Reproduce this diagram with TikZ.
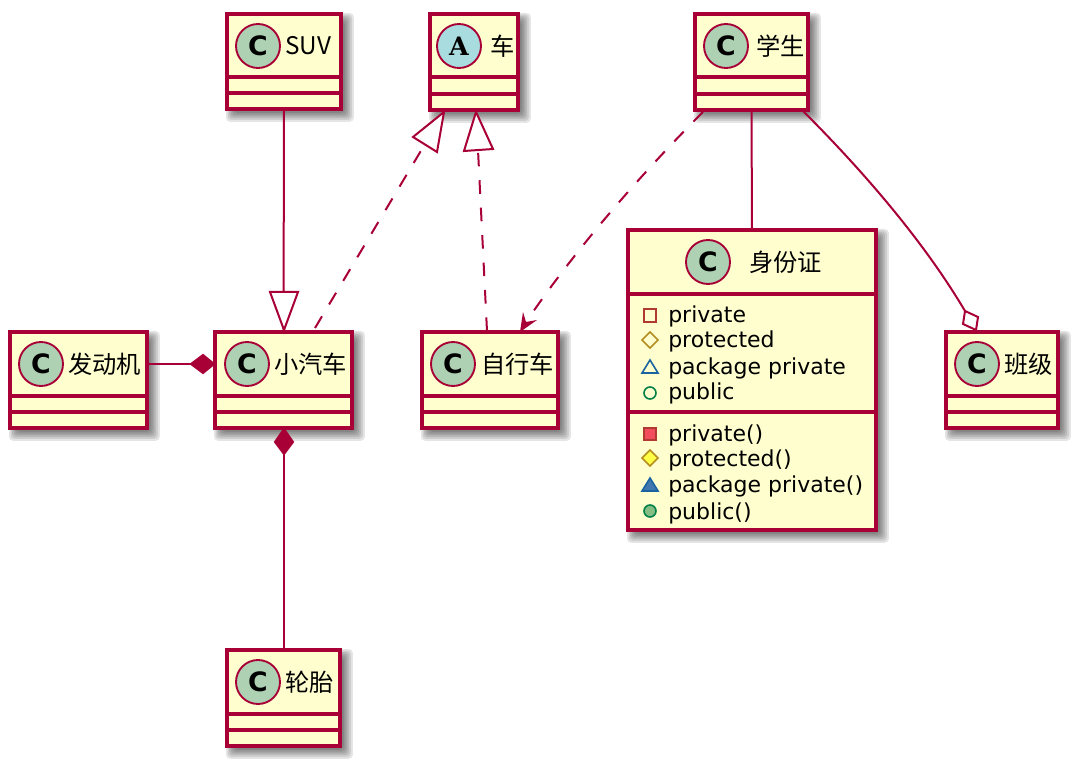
\documentclass[tikz,border=0pt]{standalone}
\usepackage{fontspec}
\setmainfont{DejaVu Sans}
\newfontfamily\cjkf{Noto Sans CJK SC}
\newfontfamily\absf{DejaVu Serif}
\definecolor{umlb}{HTML}{A80036}
\definecolor{umlf}{HTML}{FEFECE}
\definecolor{umlc}{HTML}{ADD1B2}
\definecolor{umla}{HTML}{A9DCDF}
\definecolor{vpriv}{HTML}{B03A30}
\definecolor{vprivf}{HTML}{F24D5C}
\definecolor{vprot}{HTML}{B38D22}
\definecolor{vprotf}{HTML}{FFFF44}
\definecolor{vpack}{HTML}{1963A0}
\definecolor{vpackf}{HTML}{4177AF}
\definecolor{vpub}{HTML}{038048}
\definecolor{vpubf}{HTML}{84BE84}
\tikzset{
  x=0.75pt,y=-0.75pt,
  conn/.style={draw=umlb,line width=1.5pt},
  dashconn/.style={conn,dash pattern=on 10.2pt off 10.4pt},
  hollowtip/.style={conn,fill=white,line join=miter},
  soliddiamond/.style={conn,fill=umlb,line join=miter},
  boxframe/.style={draw=umlb,fill=umlf,line width=2.3pt,inner sep=0pt,outer sep=0pt,anchor=north west},
  sepline/.style={draw=umlb,line width=2.6pt},
  badge/.style={circle,draw=umlb,line width=1.4pt,minimum size=33pt,inner sep=0pt,outer sep=0pt},
  badgeletter/.style={font=\bfseries\fontsize{20}{22}\selectfont,text=black,inner sep=0pt},
  titletext/.style={font=\cjkf\fontsize{18.2}{20}\selectfont,text=black,anchor=west,inner sep=0pt},
  membertext/.style={font=\fontsize{16.5}{18}\selectfont,text=black,anchor=base west,inner sep=0pt},
  visline/.style={line width=1.2pt},
}
\newcommand{\umlshadow}[4]{%
  \foreach \g in {0,1,...,6}{%
    \fill[black,opacity=0.10,rounded corners=3pt]
      ({#1+8-\g*1.5},{#2+8-\g*1.5}) rectangle ({#3+2+\g*1.8},{#4+2+\g*1.8});
  }}
\newcommand{\umlbox}[5]{%
  \umlshadow{#2}{#3}{#4}{#5}%
  \pgfmathsetmacro{\wid}{(#4-#2)*0.75}\pgfmathsetmacro{\hei}{(#5-#3)*0.75}%
  \node[boxframe,minimum width=\wid pt,minimum height=\hei pt] (#1) at (#2,#3) {};
}
\newcommand{\umlseps}[4]{%
  \draw[sepline] (#1+2,#3) -- (#2-2,#3);
  \draw[sepline] (#1+2,#4) -- (#2-2,#4);
}
\begin{document}
\begin{tikzpicture}
\useasboundingbox (0,0) rectangle (1074,762);
% boxes
\umlbox{suv}{227}{14}{341}{109}
\umlseps{227}{341}{77}{93}
\node[badge,fill=umlc] (suvb) at (258,46) {};
\node[badgeletter] (suvc) at (258,46) {C};
\node[titletext] (suvt) at (285,46) {SUV};

\umlbox{car}{430}{14}{518}{110}
\umlseps{430}{518}{77}{94}
\node[badge,fill=umla] (carb) at (459,46) {};
\node[badgeletter,font=\absf\bfseries\fontsize{19}{20}\selectfont] (carc) at (459,46) {A};
\node[titletext] (cart) at (490,46) {车};

\umlbox{stu}{695}{14}{808}{110}
\umlseps{695}{808}{77}{94}
\node[badge,fill=umlc] (stub) at (726,46) {};
\node[badgeletter] (stuc) at (726,46) {C};
\node[titletext] (stut) at (756,46) {学生};

\umlbox{eng}{10}{332}{147}{428}
\umlseps{10}{147}{396}{412}
\node[badge,fill=umlc] (engb) at (41,364) {};
\node[badgeletter] (engc) at (41,364) {C};
\node[titletext] (engt) at (68,364) {发动机};

\umlbox{auto}{215}{332}{352}{428}
\umlseps{215}{352}{396}{412}
\node[badge,fill=umlc] (autob) at (247,364) {};
\node[badgeletter] (autoc) at (247,364) {C};
\node[titletext] (autot) at (274,364) {小汽车};

\umlbox{bike}{422}{332}{558}{428}
\umlseps{422}{558}{396}{412}
\node[badge,fill=umlc] (bikeb) at (453,364) {};
\node[badgeletter] (bikec) at (453,364) {C};
\node[titletext] (biket) at (481,364) {自行车};

\umlbox{cls}{946}{332}{1058}{428}
\umlseps{946}{1058}{396}{412}
\node[badge,fill=umlc] (clsb) at (977,364) {};
\node[badgeletter] (clsc) at (977,364) {C};
\node[titletext] (clst) at (1004,364) {班级};

\umlbox{tire}{227}{650}{340}{746}
\umlseps{227}{340}{714}{730}
\node[badge,fill=umlc] (tireb) at (258,682) {};
\node[badgeletter] (tirec) at (258,682) {C};
\node[titletext] (tiret) at (285,682) {轮胎};

\umlbox{idc}{628}{230}{876}{530}
\umlseps{628}{876}{294}{412}
\node[badge,fill=umlc] (idcb) at (708,262) {};
\node[badgeletter] (idcc) at (708,262) {C};
\node[titletext] (idct) at (749,262) {身份证};

% member texts
\foreach \nm/\ty/\tx in {m1/323/private,m2/348/protected,m3/374.5/package private,m4/400/public,m5/441.5/private(),m6/466.5/protected(),m7/493/package private(),m8/519/public()}{
  \node[membertext] (\nm) at (668,\ty) {\tx};
}
% visibility marks
\draw[visline,draw=vpriv] (644,309) rectangle (656,322);
\draw[visline,draw=vprot] (650,332) -- (658,340) -- (650,348) -- (642,340) -- cycle;
\draw[visline,draw=vpack] (650,360) -- (658,373) -- (642,373) -- cycle;
\draw[visline,draw=vpub] (650,393) circle (6);
\draw[visline,draw=vpriv,fill=vprivf] (644,428) rectangle (656,440);
\draw[visline,draw=vprot,fill=vprotf] (650,450) -- (658,458) -- (650,466) -- (642,458) -- cycle;
\draw[visline,draw=vpack,fill=vpackf] (650,478) -- (658,491) -- (642,491) -- cycle;
\draw[visline,draw=vpub,fill=vpubf] (650,511) circle (6);

% connectors
\coordinate (autodash) at (315,328);
\coordinate (carbasea) at (425,144);
\coordinate (bikedash) at (487,331);
\coordinate (carbaseb) at (478,150);
\coordinate (stubike) at (703,112);
\coordinate (bikenotch) at (526,322);
\coordinate (stucls) at (803,111);
\coordinate (clsdia) at (965,311);
\draw[conn] (suv.south) -- (auto.north);
\draw[hollowtip] (284,330) -- (270,292) -- (298,292) -- cycle;
\draw[dashconn] (autodash) -- (carbasea);
\draw[hollowtip] (444,112) -- (413,137) -- (437,152) -- cycle;
\draw[dashconn] (bikedash) -- (carbaseb);
\draw[hollowtip] (476,112) -- (464,151) -- (493,149) -- cycle;
\draw[dashconn] (stubike) .. controls (640,175) and (575,250) .. (bikenotch);
\fill[umlb] (520,332) -- (523,312) -- (526,322) -- (537,320) -- cycle;
\draw[conn] (stu.south) -- (idc.north);
\draw[conn] (stucls) .. controls (855,163) and (920,235) .. (clsdia);
\draw[conn,fill=white,line join=miter] (965,311) -- (978,317) -- (976,330) -- (963,324) -- cycle;
\draw[conn] (eng.east |- autob) -- (auto.west |- autob);
\draw[soliddiamond] (214,364) -- (203,373) -- (191,364) -- (203,355) -- cycle;
\draw[conn] (auto.south) -- (tire.north);
\draw[soliddiamond] (284,429) -- (293,442) -- (284,454) -- (275,442) -- cycle;
\end{tikzpicture}
\end{document}
